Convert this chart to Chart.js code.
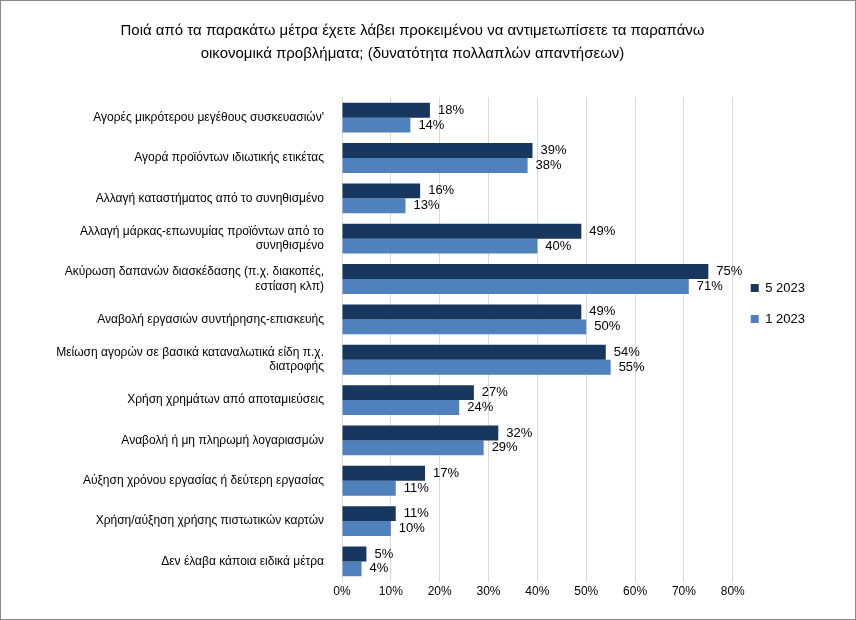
<!DOCTYPE html>
<html>
<head>
<meta charset="utf-8">
<script src="https://cdn.jsdelivr.net/npm/chart.js@4"></script>
<style>
  body { margin: 0; background: #fff; }
  #wrap { width: 856px; height: 620px; }
</style>
</head>
<body>
<div id="wrap"><canvas id="chart" width="856" height="620"></canvas></div>
<script>
const categories = [
  ["Αγορές μικρότερου μεγέθους συσκευασιών'"],
  ["Αγορά προϊόντων ιδιωτικής ετικέτας"],
  ["Αλλαγή καταστήματος από το συνηθισμένο"],
  ["Αλλαγή μάρκας-επωνυμίας προϊόντων από το", "συνηθισμένο"],
  ["Ακύρωση δαπανών διασκέδασης (π.χ. διακοπές,", "εστίαση κλπ)"],
  ["Αναβολή εργασιών συντήρησης-επισκευής"],
  ["Μείωση αγορών σε βασικά καταναλωτικά είδη π.χ.", "διατροφής"],
  ["Χρήση χρημάτων από αποταμιεύσεις"],
  ["Αναβολή ή μη πληρωμή λογαριασμών"],
  ["Αύξηση χρόνου εργασίας ή δεύτερη εργασίας"],
  ["Χρήση/αύξηση χρήσης πιστωτικών καρτών"],
  ["Δεν έλαβα κάποια ειδικά μέτρα"]
];
const may2023 = [18, 39, 16, 49, 75, 49, 54, 27, 32, 17, 11, 5];
const jan2023 = [14, 38, 13, 40, 71, 50, 55, 24, 29, 11, 10, 4];
const seriesNames = ["5 2023", "1 2023"];
const titleLines = [
  "Ποιά από τα παρακάτω μέτρα έχετε λάβει προκειμένου να αντιμετωπίσετε τα παραπάνω",
  "οικονομικά προβλήματα; (δυνατότητα πολλαπλών απαντήσεων)"
];

const FONT = "'Liberation Sans', Arial, sans-serif";

const valueLabels = {
  id: "valueLabels",
  afterDatasetsDraw(chart) {
    const ctx = chart.ctx;
    ctx.save();
    ctx.font = "13px " + FONT;
    ctx.fillStyle = "#000";
    ctx.textBaseline = "middle";
    chart.data.datasets.forEach((ds, i) => {
      chart.getDatasetMeta(i).data.forEach((bar, j) => {
        ctx.fillText(ds.data[j] + "%", bar.x + 8, bar.y);
      });
    });
    ctx.restore();
  }
};

const frame = {
  id: "frame",
  afterDraw(chart) {
    const ctx = chart.ctx;
    ctx.save();
    ctx.strokeStyle = "#888";
    ctx.lineWidth = 1;
    ctx.strokeRect(0.5, 0.5, chart.width - 1, chart.height - 1);
    ctx.restore();
  }
};

new Chart(document.getElementById("chart"), {
  type: "bar",
  data: {
    labels: categories,
    datasets: [
      { label: seriesNames[0], data: may2023, backgroundColor: "#17375E" },
      { label: seriesNames[1], data: jan2023, backgroundColor: "#4F81BD" }
    ]
  },
  options: {
    indexAxis: "y",
    responsive: false,
    animation: false,
    devicePixelRatio: 1,
    layout: { padding: { left: 10, right: 41, top: 5, bottom: 18 } },
    datasets: { bar: { categoryPercentage: 0.74, barPercentage: 1 } },
    plugins: {
      title: {
        display: true,
        text: titleLines,
        color: "#000",
        font: { family: FONT, size: 15, weight: "normal", lineHeight: 1.55 },
        padding: { top: 14, bottom: 32 }
      },
      legend: {
        position: "right",
        labels: {
          color: "#000",
          font: { family: FONT, size: 13 },
          boxWidth: 8,
          boxHeight: 8,
          padding: 18
        }
      },
      tooltip: { enabled: false }
    },
    scales: {
      x: {
        min: 0,
        max: 80,
        ticks: {
          stepSize: 10,
          color: "#000",
          font: { family: FONT, size: 12 },
          callback: v => v + "%"
        },
        grid: { color: "#d9d9d9", drawTicks: false },
        border: { display: false }
      },
      y: {
        afterFit(scale) { scale.width = 332; },
        ticks: {
          color: "#000",
          font: { family: FONT, size: 12 },
          padding: 10
        },
        grid: { display: false },
        border: { color: "#d9d9d9" }
      }
    }
  },
  plugins: [valueLabels, frame]
});
</script>
</body>
</html>
